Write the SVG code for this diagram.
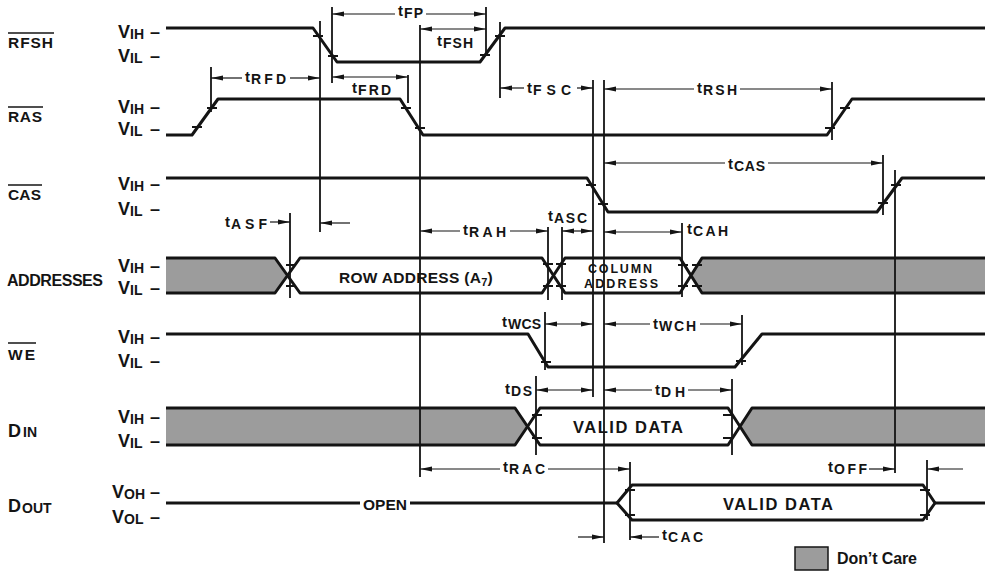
<svg xmlns="http://www.w3.org/2000/svg" width="985" height="571" viewBox="0 0 985 571">
<defs>
<style>
text{font-family:"Liberation Sans",Arial,Helvetica,sans-serif;font-weight:bold;fill:#141414}
.nm{font-size:15.5px}
.v{font-size:18px}
.vs{font-size:14px}
.t{font-size:15px}
.ts{font-size:14px}
.in{font-size:16px}
.sig{fill:none;stroke:#141414;stroke-width:3;stroke-linejoin:round}
.dc{fill:#9c9c9c;stroke:#141414;stroke-width:3;stroke-linejoin:round}
.wh{fill:#fff;stroke:#141414;stroke-width:3;stroke-linejoin:round}
.ref{stroke:#141414;stroke-width:1.8;fill:none}
.dim{stroke:#141414;stroke-width:1.2;fill:none}
.tk{stroke:#141414;stroke-width:1.8;fill:none}
.ov{stroke:#141414;stroke-width:1.5}
.a2{marker-start:url(#ah);marker-end:url(#ah)}
.ae{marker-end:url(#ah)}
.as{marker-start:url(#ah)}
</style>
<marker id="ah" viewBox="-12 -3 13 6" refX="0" refY="0" markerWidth="13" markerHeight="6" markerUnits="userSpaceOnUse" orient="auto-start-reverse">
<path d="M0,0 L-12,-2.5 L-12,2.5 Z" fill="#141414"/>
</marker>
</defs>
<rect x="0" y="0" width="985" height="571" fill="#fff"/>

<g id="rfsh">
<text class="nm" x="8" y="48" textLength="45">RFSH</text>
<line class="ov" x1="8" y1="33" x2="54" y2="33"/>
<text class="v" x="118" y="38">V<tspan class="vs" dy="1">IH</tspan><tspan x="150" dy="-1">–</tspan></text>
<text class="v" x="118" y="62">V<tspan class="vs" dy="1">IL</tspan><tspan x="150" dy="-1">–</tspan></text>
<path class="sig" d="M166,28 H313 L337,62 H480 L505,28 H985"/>
<path class="tk" d="M313,36 h10 M328,56 h10 M480,55 h10 M495,36 h10"/>
</g>

<g id="ras">
<text class="nm" x="8" y="122" textLength="34">RAS</text>
<line class="ov" x1="8" y1="107" x2="43" y2="107"/>
<text class="v" x="118" y="113">V<tspan class="vs" dy="1">IH</tspan><tspan x="150" dy="-1">–</tspan></text>
<text class="v" x="118" y="135">V<tspan class="vs" dy="1">IL</tspan><tspan x="150" dy="-1">–</tspan></text>
<path class="sig" d="M166,135 H192 L218,99 H400 L423,135 H827 L852,99 H985"/>
<path class="tk" d="M192,127 h10 M207,108 h10 M401,108 h10 M415,128 h10 M825,128 h10 M840,108 h10"/>
</g>

<g id="cas">
<text class="nm" x="8" y="200" textLength="33">CAS</text>
<line class="ov" x1="8" y1="185" x2="42" y2="185"/>
<text class="v" x="118" y="190">V<tspan class="vs" dy="1">IH</tspan><tspan x="150" dy="-1">–</tspan></text>
<text class="v" x="118" y="215">V<tspan class="vs" dy="1">IL</tspan><tspan x="150" dy="-1">–</tspan></text>
<path class="sig" d="M166,178 H587 L608,212 H877 L902,178 H985"/>
<path class="tk" d="M586,185 h10 M598,204 h10 M878,203 h10 M891,185 h10"/>
</g>

<g id="addresses">
<text class="nm" x="7" y="286" textLength="96" style="font-size:16px">ADDRESSES</text>
<text class="v" x="118" y="272">V<tspan class="vs" dy="1">IH</tspan><tspan x="150" dy="-1">–</tspan></text>
<text class="v" x="118" y="294">V<tspan class="vs" dy="1">IL</tspan><tspan x="150" dy="-1">–</tspan></text>
<path class="dc" d="M166,258 H275 L287.5,275.5 L275,293 H166"/>
<path class="wh" d="M287.5,275.5 L300,258 H542 L553.5,275.5 L542,293 H300 Z"/>
<path class="wh" d="M553.5,275.5 L565,258 H680 L691,275.5 L680,293 H565 Z"/>
<path class="dc" d="M985,258 H702 L691,275.5 L702,293 H985"/>
<text class="in" x="416" y="283" text-anchor="middle" letter-spacing="0.3" style="font-size:15.5px">ROW ADDRESS (A<tspan style="font-size:11px" dy="3">7</tspan><tspan dy="-3">)</tspan></text>
<text class="in" x="620" y="273" text-anchor="middle" textLength="64" style="font-size:12.5px">COLUMN</text>
<text class="in" x="621" y="288" text-anchor="middle" textLength="74" style="font-size:12.5px">ADDRESS</text>
<path class="tk" d="M286,265 h10 M286,286 h10 M543,264 h10 M543,286 h10 M556,264 h10 M556,286 h10 M678,265 h10 M678,286 h10 M692,265 h10 M692,286 h10"/>
</g>

<g id="we">
<text class="nm" x="8" y="360" textLength="27">WE</text>
<line class="ov" x1="8" y1="343" x2="36" y2="343"/>
<text class="v" x="118" y="343">V<tspan class="vs" dy="1">IH</tspan><tspan x="150" dy="-1">–</tspan></text>
<text class="v" x="118" y="367">V<tspan class="vs" dy="1">IL</tspan><tspan x="150" dy="-1">–</tspan></text>
<path class="sig" d="M166,334 H528 L548,367 H735 L762,334 H985"/>
<path class="tk" d="M541,362 h10 M736,361 h10"/>
</g>

<g id="din">
<text class="v" x="8" y="437">D<tspan class="vs" dx="2">IN</tspan></text>
<text class="v" x="118" y="423">V<tspan class="vs" dy="1">IH</tspan><tspan x="150" dy="-1">–</tspan></text>
<text class="v" x="118" y="447">V<tspan class="vs" dy="1">IL</tspan><tspan x="150" dy="-1">–</tspan></text>
<path class="dc" d="M166,408 H515 L527.5,426.5 L515,445 H166"/>
<path class="wh" d="M527.5,426.5 L540,408 H728 L740,426.5 L728,445 H540 Z"/>
<path class="dc" d="M985,408 H752 L740,426.5 L752,445 H985"/>
<text class="in" x="628" y="433" text-anchor="middle" textLength="110" style="font-size:16.5px">VALID DATA</text>
<path class="tk" d="M532,415 h10 M532,438 h10 M723,415 h10 M723,438 h10"/>
</g>

<g id="dout">
<text class="v" x="8" y="512">D<tspan class="vs" dx="1" dy="1">OUT</tspan></text>
<text class="v" x="112" y="498">V<tspan class="vs" dy="1">OH</tspan><tspan x="150" dy="-1">–</tspan></text>
<text class="v" x="112" y="523">V<tspan class="vs" dy="1">OL</tspan><tspan x="150" dy="-1">–</tspan></text>
<path class="sig" d="M166,503 H360 M410,503 H617 M935,503 H985"/>
<text class="in" x="385" y="510" text-anchor="middle" textLength="44" style="font-size:15.5px">OPEN</text>
<path class="wh" d="M617,503 L632,485 H923 L935,503 L923,520 H632 Z"/>
<text class="in" x="778" y="510" text-anchor="middle" textLength="110" style="font-size:16.5px">VALID DATA</text>
<path class="tk" d="M625,490 h10 M625,515 h10 M920,490 h10 M920,515 h10"/>
</g>

<g id="legend">
<rect x="795" y="547" width="33" height="23" fill="#9c9c9c" stroke="#141414" stroke-width="1.5"/>
<text x="837" y="564" style="font-size:16px" textLength="80">Don’t Care</text>
</g>

<g id="connectors">
<path class="ref" d="M211,67 V112 M320,21 V232 M332,7 V83 M408,75 V103 M420,25 V477 M486,7 V55 M500,22 V98 M593,80 V397 M604,80 V543 M832,82 V140 M883,155 V215 M895,170 V473 M290,213 V298 M548,227 V300 M562,227 V300 M682,223 V297 M545,312 V370 M742,315 V365 M536,376 V455 M732,379 V455 M630,462 V540 M927,460 V520"/>
<path class="dim as" d="M332,14 H395"/><path class="dim ae" d="M426,14 H486"/>
<path class="dim a2" d="M420,29 H486"/>
<path class="dim as" d="M211,78 H242"/><path class="dim ae" d="M290,78 H320"/>
<path class="dim a2" d="M332,77 H408"/>
<path class="dim as" d="M500,88 H524"/><path class="dim ae" d="M577,88 H593"/>
<path class="dim as" d="M604,89 H694"/><path class="dim ae" d="M740,89 H832"/>
<path class="dim as" d="M604,163 H725"/><path class="dim ae" d="M768,163 H883"/>
<path class="dim ae" d="M270,222 H290"/><path class="dim ae" d="M350,223 H320"/>
<path class="dim as" d="M420,231 H460"/><path class="dim ae" d="M510,231 H548"/>
<path class="dim a2" d="M562,231 H593"/>
<path class="dim a2" d="M604,232 H682"/>
<path class="dim a2" d="M545,324 H593"/>
<path class="dim as" d="M604,324 H650"/><path class="dim ae" d="M700,324 H742"/>
<path class="dim a2" d="M536,390 H593"/>
<path class="dim as" d="M604,390 H652"/><path class="dim ae" d="M688,390 H732"/>
<path class="dim as" d="M420,469 H500"/><path class="dim ae" d="M548,469 H630"/>
<path class="dim ae" d="M869,469 H895"/><path class="dim ae" d="M963,469 H927"/>
<path class="dim ae" d="M578,537 H604"/><path class="dim ae" d="M659,537 H630"/>
<g id="timing-labels">
<text class="t" x="398" y="16">t<tspan class="ts" dx="1" dy="2" textLength="19">FP</tspan></text>
<text class="t" x="437" y="46">t<tspan class="ts" dx="1" dy="2" textLength="30">FSH</tspan></text>
<text class="t" x="352" y="93">t<tspan class="ts" dx="1" dy="2" textLength="33">FRD</tspan></text>
<text class="t" x="245" y="82">t<tspan class="ts" dx="1" dy="2" textLength="35">RFD</tspan></text>
<text class="t" x="527" y="93">t<tspan class="ts" dx="1" dy="2" textLength="38">FSC</tspan></text>
<text class="t" x="697" y="93">t<tspan class="ts" dx="1" dy="2" textLength="34">RSH</tspan></text>
<text class="t" x="728" y="169">t<tspan class="ts" dx="1" dy="2" textLength="31">CAS</tspan></text>
<text class="t" x="225" y="227">t<tspan class="ts" dx="1" dy="2" textLength="36">ASF</tspan></text>
<text class="t" x="463" y="235">t<tspan class="ts" dx="1" dy="2" textLength="37">RAH</tspan></text>
<text class="t" x="548" y="221">t<tspan class="ts" dx="1" dy="2" textLength="33">ASC</tspan></text>
<text class="t" x="687" y="234">t<tspan class="ts" dx="1" dy="2" textLength="35">CAH</tspan></text>
<text class="t" x="502" y="327">t<tspan class="ts" dx="1" dy="2" textLength="33">WCS</tspan></text>
<text class="t" x="653" y="329">t<tspan class="ts" dx="1" dy="2" textLength="37">WCH</tspan></text>
<text class="t" x="505" y="394">t<tspan class="ts" dx="1" dy="2" textLength="21">DS</tspan></text>
<text class="t" x="655" y="395">t<tspan class="ts" dx="1" dy="2" textLength="24">DH</tspan></text>
<text class="t" x="503" y="472">t<tspan class="ts" dx="1" dy="2" textLength="36">RAC</tspan></text>
<text class="t" x="828" y="472">t<tspan class="ts" dx="1" dy="2" textLength="33">OFF</tspan></text>
<text class="t" x="662" y="540">t<tspan class="ts" dx="1" dy="2" textLength="35">CAC</tspan></text>
</g>
</g>
</svg>
